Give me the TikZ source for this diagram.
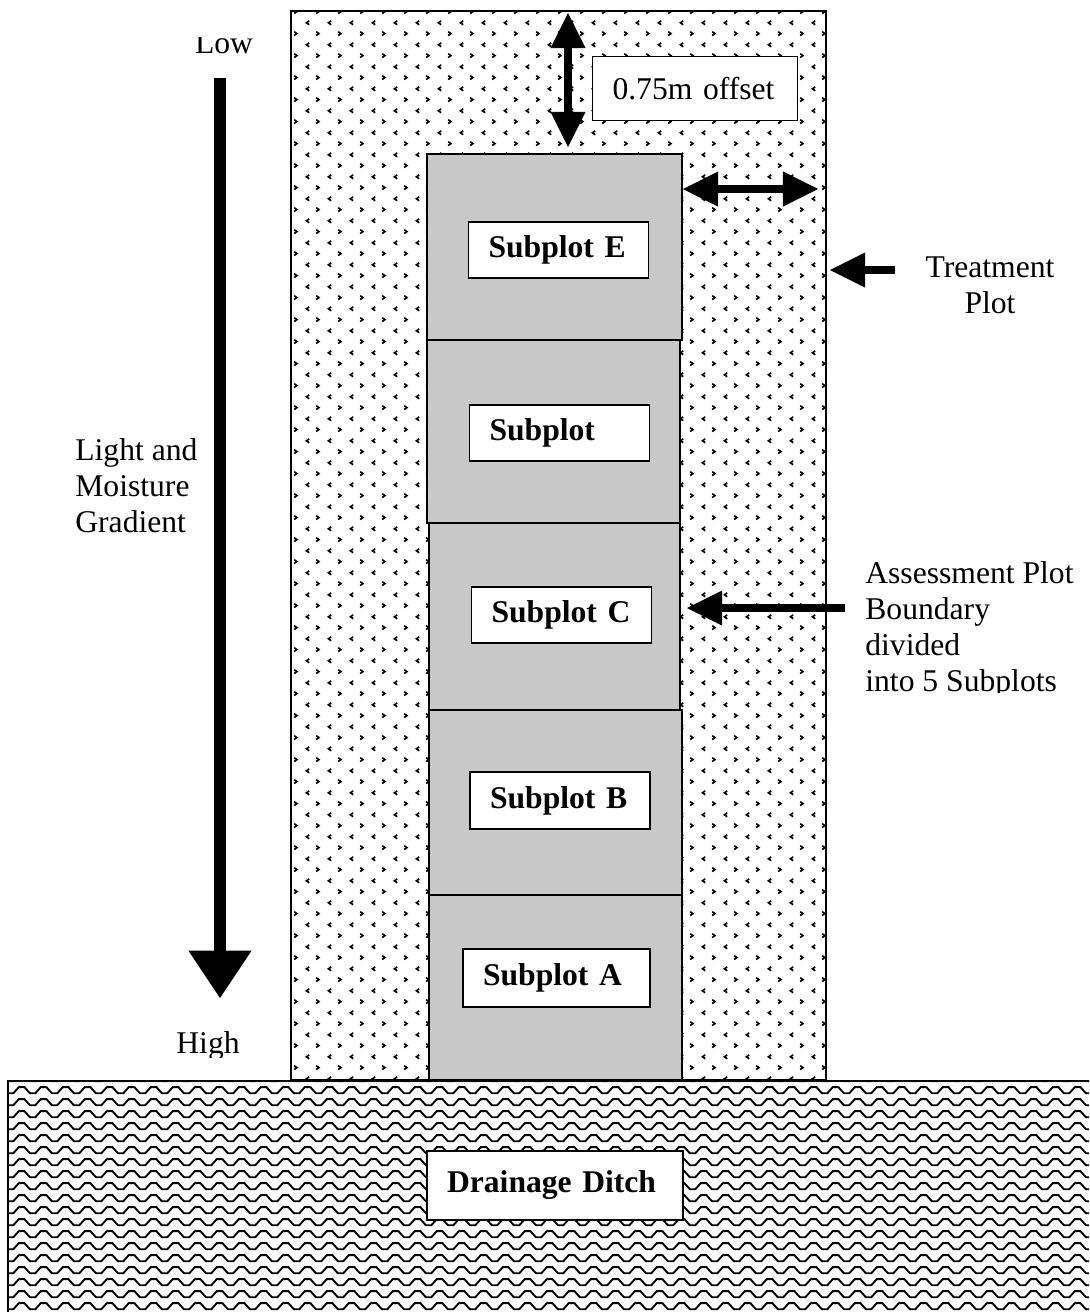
\documentclass[tikz,border=0pt]{standalone}
\usepackage{fontspec}
\setmainfont{Liberation Serif}
\usetikzlibrary{arrows.meta, patterns, fit}
\definecolor{subgray}{HTML}{C8C8C8}
% fill patterns of the treatment plot and the ditch
\pgfdeclarepatternformonly{chevdots}{\pgfqpoint{0pt}{0pt}}{\pgfqpoint{12.3pt}{12.4pt}}{\pgfqpoint{12.3pt}{12.4pt}}{%
  \pgfsetlinewidth{0.95pt}%
  \pgfpathmoveto{\pgfqpoint{4.2pt}{10.4pt}}%
  \pgfpathlineto{\pgfqpoint{2.6pt}{9.3pt}}%
  \pgfpathlineto{\pgfqpoint{4.2pt}{8.2pt}}%
  \pgfpathmoveto{\pgfqpoint{8.2pt}{4.2pt}}%
  \pgfpathlineto{\pgfqpoint{9.8pt}{3.1pt}}%
  \pgfpathlineto{\pgfqpoint{8.2pt}{2.0pt}}%
  \pgfusepath{stroke}}
\pgfdeclarepatternformonly{ditchwave}{\pgfqpoint{0pt}{0pt}}{\pgfqpoint{12.3pt}{6.6pt}}{\pgfqpoint{12.3pt}{6.6pt}}{%
  \pgfsetlinewidth{1.1pt}%
  \pgfpathmoveto{\pgfqpoint{-0.5pt}{5.2pt}}%
  \pgfpathlineto{\pgfqpoint{1.4pt}{5.2pt}}%
  \pgfpathlineto{\pgfqpoint{4.6pt}{1.6pt}}%
  \pgfpathlineto{\pgfqpoint{7.7pt}{1.6pt}}%
  \pgfpathlineto{\pgfqpoint{10.9pt}{5.2pt}}%
  \pgfpathlineto{\pgfqpoint{12.8pt}{5.2pt}}%
  \pgfusepath{stroke}}
\tikzset{
    plotbox/.style={
        draw=black, line width=1pt, inner sep=0pt
    },
    treatplot/.style={plotbox, pattern=chevdots},
    ditchplot/.style={plotbox, pattern=ditchwave},
    subplotbox/.style={plotbox, fill=subgray},
    textbox/.style={
        draw=black, fill=white, line width=1pt, font=\fontsize{18}{21}\selectfont,
        minimum height=1.13cm, inner xsep=0.4cm, text width=2.8cm, align=left
    },
    labelbox/.style={textbox, font=\fontsize{18}{21}\selectfont\bfseries},
    plaintext/.style={font=\fontsize{18}{20.5}\selectfont, inner sep=0pt},
    blockarrow/.style={
        -{Triangle[length=20pt, width=20pt, line width=0pt]}, line width=5pt
    },
    dblarrow/.style={
        {Triangle[length=20pt, width=20pt, line width=0pt]}-{Triangle[length=20pt, width=20pt, line width=0pt]}, line width=5pt
    },
    gradarrow/.style={
        -{Triangle[length=27pt, width=36pt, line width=0pt]}, line width=6.8pt
    }
}
\begin{document}
\begin{tikzpicture}[x=0.02cm, y=-0.02cm]
    \clip (0,0) rectangle (1089,1312);

    % ditch and treatment plot
    \node[ditchplot, fit={(8,1081) (1110,1330)}] (ditch) {};
    \node[treatplot, fit={(291,11) (826,1080)}] (treat) {};

    % assessment plot, five subplots
    \node[subplotbox, fit={(427,154) (682,340)}] (sube) {};
    \node[subplotbox, fit={(427,340) (680,523)}] (subd) {};
    \node[subplotbox, fit={(429,523) (680,710)}] (subc) {};
    \node[subplotbox, fit={(429,710) (682,895)}] (subb) {};
    \node[subplotbox, fit={(429,895) (682,1080)}] (suba) {};

    \node[labelbox] (labe) at (558.5,250) {Subplot E};
    \node[labelbox] (labd) at (559.5,433) {Subplot};
    \node[labelbox] (labc) at (561.5,615) {Subplot C};
    \node[labelbox] (labb) at (560,800.5) {Subplot B};
    \node[labelbox, text width=2.94cm, minimum height=1.16cm] (laba) at (556.5,978) {Subplot A};
    \node[labelbox, text width=4.32cm, minimum height=1.38cm] (ditchlbl) at (555,1185.5) {Drainage Ditch};
    \node[textbox, text width=3.3cm, minimum height=1.28cm] (offsetlbl) at (695,88.5) {0.75m offset};

    % offset arrows
    \coordinate (offtop) at (568,13);
    \coordinate (offbot) at (568,147);
    \draw[dblarrow] (offtop) -- (offbot);
    \coordinate (sidein) at (683,189);
    \coordinate (sideout) at (818,189);
    \draw[dblarrow] (sidein) -- (sideout);

    % right hand notes
    \node[plaintext, align=center, anchor=north] (treatlbl) at (990,256) {Treatment\\Plot};
    \coordinate (treattail) at (895,270);
    \coordinate (treattip) at (830,270);
    \draw[blockarrow] (treattail) -- (treattip);

    \begin{scope}
      \clip (840,540) rectangle (1089,692);
      \node[plaintext, align=left, anchor=north west] (assesslbl) at (865,561) {Assessment Plot\\Boundary\\divided\\into 5 Subplots};
    \end{scope}
    \coordinate (assesstail) at (845,608);
    \coordinate (assesstip) at (687,608);
    \draw[blockarrow] (assesstail) -- (assesstip);

    % gradient
    \begin{scope}
      \clip (150,37) rectangle (290,70);
      \node[plaintext, anchor=base] (lowlbl) at (224,53) {Low};
    \end{scope}
    \begin{scope}
      \clip (150,1005) rectangle (280,1057);
      \node[plaintext, anchor=base] (highlbl) at (208,1053) {High};
    \end{scope}
    \node[plaintext, align=left, anchor=north west] (gradlbl) at (75,438) {Light and\\Moisture\\Gradient};
    \coordinate (gradtop) at (220,78);
    \coordinate (gradtip) at (220,998);
    \draw[gradarrow] (gradtop) -- (gradtip);
\end{tikzpicture}
\end{document}
